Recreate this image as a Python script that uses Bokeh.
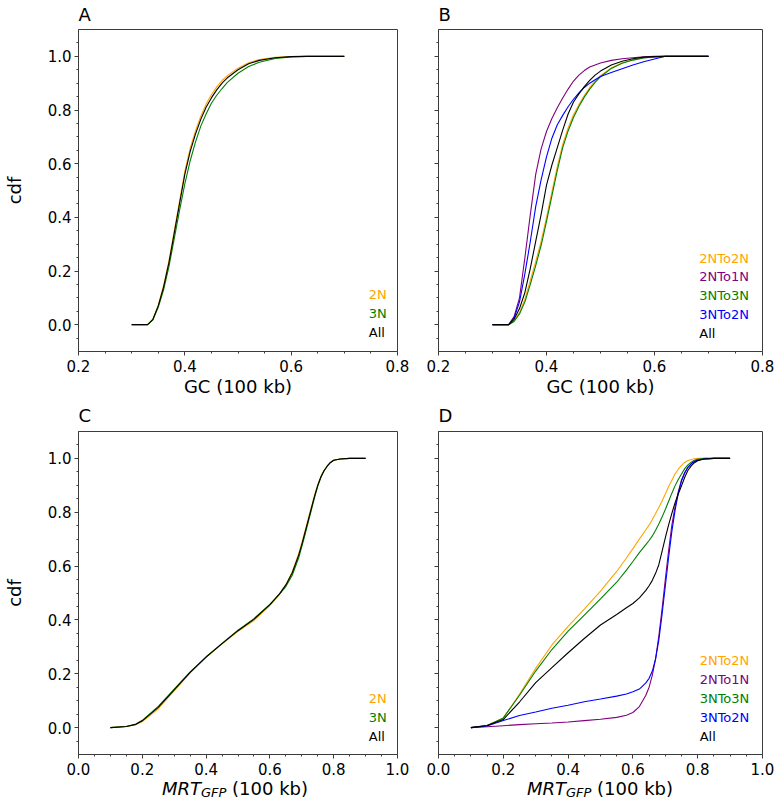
from bokeh.plotting import figure
from bokeh.models import (Range1d, FixedTicker, NumeralTickFormatter,
                          CustomJSTickFormatter, Label, Div)
from bokeh.layouts import column, row
from bokeh.embed import file_html
from bokeh.resources import INLINE

# ---------------- data ----------------
# Panel A: GC (100 kb), 2N / 3N / All
gc_x_A = [0.30, 0.33, 0.34, 0.35, 0.36, 0.37, 0.38, 0.39, 0.40, 0.41, 0.42, 0.43,
          0.44, 0.45, 0.46, 0.47, 0.48, 0.50, 0.52, 0.54, 0.57, 0.60, 0.63, 0.70]
cdf_A_2N = [0, 0, 0.021, 0.073, 0.145, 0.237, 0.348, 0.46, 0.572, 0.657, 0.722, 0.777,
            0.822, 0.857, 0.886, 0.91, 0.928, 0.956, 0.976, 0.988, 0.996, 0.9995, 1.0, 1.0]
cdf_A_3N = [0, 0, 0.018, 0.065, 0.13, 0.215, 0.32, 0.425, 0.525, 0.61, 0.68, 0.74,
            0.785, 0.825, 0.855, 0.88, 0.903, 0.937, 0.962, 0.978, 0.992, 0.998, 1.0, 1.0]
cdf_A_All = [0, 0, 0.02, 0.07, 0.14, 0.23, 0.34, 0.45, 0.56, 0.645, 0.71, 0.765,
             0.81, 0.845, 0.875, 0.90, 0.92, 0.95, 0.972, 0.985, 0.995, 0.999, 1.0, 1.0]

# Panel B: GC (100 kb), transitions
gc_x_B = [0.30, 0.33, 0.34, 0.35, 0.36, 0.37, 0.38, 0.39, 0.40, 0.41, 0.42, 0.43, 0.44,
          0.45, 0.46, 0.47, 0.48, 0.49, 0.50, 0.52, 0.54, 0.56, 0.58, 0.60, 0.62, 0.65, 0.70]
cdf_B_2NTo2N = [0, 0, 0.015, 0.045, 0.095, 0.165, 0.235, 0.31, 0.40, 0.495, 0.59, 0.672, 0.733,
                0.782, 0.82, 0.854, 0.884, 0.908, 0.928, 0.957, 0.975, 0.987, 0.995, 0.998, 1.0, 1.0, 1.0]
cdf_B_2NTo1N = [0, 0, 0.03, 0.10, 0.25, 0.41, 0.56, 0.655, 0.72, 0.768, 0.808, 0.845, 0.878,
                0.908, 0.93, 0.947, 0.96, 0.968, 0.975, 0.985, 0.991, 0.995, 0.998, 1.0, 1.0, 1.0, 1.0]
cdf_B_3NTo3N = [0, 0, 0.012, 0.04, 0.085, 0.15, 0.22, 0.295, 0.385, 0.48, 0.575, 0.66, 0.722,
                0.772, 0.813, 0.848, 0.878, 0.903, 0.924, 0.955, 0.974, 0.986, 0.994, 0.998, 1.0, 1.0, 1.0]
cdf_B_3NTo2N = [0, 0, 0.025, 0.085, 0.19, 0.31, 0.44, 0.54, 0.625, 0.695, 0.745, 0.78, 0.812,
                0.84, 0.864, 0.884, 0.90, 0.913, 0.925, 0.94, 0.954, 0.968, 0.98, 0.99, 1.0, 1.0, 1.0]
cdf_B_All = [0, 0, 0.02, 0.06, 0.12, 0.21, 0.31, 0.41, 0.52, 0.595, 0.66, 0.725, 0.785,
             0.83, 0.86, 0.887, 0.91, 0.93, 0.945, 0.968, 0.982, 0.991, 0.997, 0.999, 1.0, 1.0, 1.0]

# Panel C: MRT_GFP (100 kb), 2N / 3N / All
mrt_x_C = [0.10, 0.15, 0.18, 0.20, 0.25, 0.30, 0.35, 0.40, 0.45, 0.50, 0.55, 0.60, 0.63, 0.65, 0.67,
           0.69, 0.70, 0.71, 0.72, 0.73, 0.74, 0.75, 0.76, 0.77, 0.78, 0.79, 0.80, 0.82, 0.85, 0.90]
cdf_C_2N = [0.0, 0.004, 0.011, 0.022, 0.07, 0.136, 0.203, 0.261, 0.311, 0.358, 0.398, 0.453, 0.495,
            0.53, 0.578, 0.645, 0.686, 0.73, 0.775, 0.82, 0.864, 0.902, 0.933, 0.956, 0.972, 0.985,
            0.993, 0.998, 1.0, 1.0]
cdf_C_3N = [0.0, 0.004, 0.013, 0.027, 0.079, 0.143, 0.207, 0.263, 0.313, 0.362, 0.405, 0.458, 0.496,
            0.524, 0.566, 0.63, 0.672, 0.716, 0.762, 0.808, 0.854, 0.896, 0.93, 0.954, 0.971, 0.985,
            0.993, 0.998, 1.0, 1.0]
cdf_C_All = [0.0, 0.004, 0.012, 0.025, 0.075, 0.14, 0.205, 0.262, 0.312, 0.36, 0.402, 0.457, 0.497,
             0.53, 0.575, 0.64, 0.68, 0.725, 0.77, 0.815, 0.86, 0.90, 0.932, 0.955, 0.972, 0.985,
             0.993, 0.998, 1.0, 1.0]

# Panel D: MRT_GFP (100 kb), transitions
mrt_x_D = [0.10, 0.15, 0.20, 0.25, 0.30, 0.35, 0.40, 0.45, 0.50, 0.55, 0.58, 0.60, 0.62, 0.64,
           0.65, 0.66, 0.67, 0.68, 0.69, 0.70, 0.71, 0.72, 0.73, 0.74, 0.75, 0.76, 0.77, 0.78,
           0.79, 0.80, 0.82, 0.85, 0.90]
cdf_D_2NTo2N = [0, 0.008, 0.035, 0.124, 0.22, 0.307, 0.376, 0.44, 0.507, 0.58, 0.63, 0.665, 0.70,
                0.735, 0.752, 0.773, 0.795, 0.818, 0.842, 0.868, 0.895, 0.918, 0.942, 0.96, 0.974,
                0.985, 0.992, 0.996, 0.999, 1.0, 1.0, 1.0, 1.0]
cdf_D_2NTo1N = [0, 0.003, 0.007, 0.011, 0.014, 0.017, 0.021, 0.026, 0.031, 0.038, 0.046, 0.056,
                0.078, 0.12, 0.15, 0.195, 0.255, 0.34, 0.44, 0.55, 0.655, 0.75, 0.82, 0.876, 0.92,
                0.948, 0.968, 0.98, 0.989, 0.994, 0.998, 1.0, 1.0]
cdf_D_3NTo3N = [0, 0.008, 0.036, 0.12, 0.21, 0.29, 0.358, 0.418, 0.478, 0.54, 0.585, 0.617, 0.65,
                0.68, 0.695, 0.712, 0.733, 0.756, 0.782, 0.81, 0.84, 0.87, 0.898, 0.922, 0.942,
                0.962, 0.976, 0.986, 0.993, 0.997, 1.0, 1.0, 1.0]
cdf_D_3NTo2N = [0, 0.006, 0.026, 0.045, 0.058, 0.072, 0.083, 0.096, 0.106, 0.117, 0.125, 0.133,
                0.143, 0.166, 0.183, 0.21, 0.255, 0.325, 0.42, 0.525, 0.63, 0.727, 0.806, 0.87,
                0.916, 0.946, 0.967, 0.98, 0.989, 0.994, 0.998, 1.0, 1.0]
cdf_D_All = [0, 0.008, 0.03, 0.095, 0.167, 0.223, 0.278, 0.331, 0.381, 0.42, 0.445, 0.461, 0.482,
             0.51, 0.527, 0.547, 0.573, 0.605, 0.655, 0.705, 0.752, 0.795, 0.835, 0.868, 0.898,
             0.93, 0.956, 0.972, 0.984, 0.991, 0.998, 1.0, 1.0]

labels_ploidy = ["2N", "3N", "All"]
colors_ploidy = ["orange", "green", "black"]
labels_trans = ["2NTo2N", "2NTo1N", "3NTo3N", "3NTo2N", "All"]
colors_trans = ["orange", "purple", "green", "blue", "black"]
panel_letters = ["A", "B", "C", "D"]

y_major = [0.0, 0.2, 0.4, 0.6, 0.8, 1.0]
y_minor = [-0.05, 0.05, 0.1, 0.15, 0.25, 0.3, 0.35, 0.45, 0.5, 0.55, 0.65, 0.7, 0.75,
           0.85, 0.9, 0.95, 1.05]
gc_major = [0.2, 0.4, 0.6, 0.8]
gc_minor = [0.25, 0.3, 0.35, 0.45, 0.5, 0.55, 0.65, 0.7, 0.75]
mrt_major = [0.0, 0.2, 0.4, 0.6, 0.8, 1.0]
mrt_minor = [0.05, 0.1, 0.15, 0.25, 0.3, 0.35, 0.45, 0.5, 0.55, 0.65, 0.7, 0.75, 0.85, 0.9, 0.95]

FONT = "DejaVu Sans"
AX = "#3c3c3c"


def make_fig(width, height, bl, br, bt, bb, xr, xmaj, xmin, ylab, letter, title_standoff):
    p = figure(width=width, height=height, x_range=Range1d(*xr), y_range=Range1d(-0.1, 1.1),
               output_backend="svg", toolbar_location=None,
               min_border_left=bl, min_border_right=br, min_border_top=bt, min_border_bottom=bb)
    p.xgrid.visible = False
    p.ygrid.visible = False
    p.outline_line_color = AX
    p.outline_line_width = 1
    p.background_fill_color = "white"
    p.border_fill_color = "white"
    p.title.text = letter
    p.title.align = "left"
    p.title.vertical_align = "top"
    p.title.text_font = FONT
    p.title.text_font_size = "18px"
    p.title.text_font_style = "normal"
    p.title.text_color = "black"
    p.title.standoff = title_standoff
    for ax, maj, mn in ((p.xaxis[0], xmaj, xmin), (p.yaxis[0], y_major, y_minor)):
        ax.ticker = FixedTicker(ticks=maj, minor_ticks=mn)
        ax.axis_line_color = AX
        ax.major_tick_line_color = AX
        ax.minor_tick_line_color = AX
        ax.major_tick_in = 0
        ax.major_tick_out = 4
        ax.minor_tick_in = 0
        ax.minor_tick_out = 2
        ax.major_label_text_font = FONT
        ax.major_label_text_font_size = "15px"
        ax.major_label_text_color = "black"
        ax.axis_label_text_font = FONT
        ax.axis_label_text_font_size = "18px"
        ax.axis_label_text_font_style = "normal"
        ax.axis_label_text_color = "black"
    p.xaxis.formatter = NumeralTickFormatter(format="0.0")
    p.xaxis.major_label_standoff = 4
    p.xaxis.axis_label_standoff = 1
    p.yaxis.major_label_standoff = 3
    if ylab:
        p.yaxis.formatter = NumeralTickFormatter(format="0.0")
        p.yaxis.axis_label = "cdf"
        p.yaxis.axis_label_standoff = 20
    else:
        p.yaxis.formatter = CustomJSTickFormatter(code="return ''")
    return p


def add_legend(p, x_left, y_top, labels, colors):
    step = 0.0703
    for i, (lab, col) in enumerate(zip(labels, colors)):
        p.add_layout(Label(x=x_left, y=y_top - i * step, text=lab, text_font=FONT,
                           text_font_size="13px", text_align="left", text_baseline="middle",
                           text_color=col))


def mrt_div(width, left, frame_w):
    html = ('<div style="margin-left:%dpx;width:%dpx;text-align:center;'
            'font-family:\'DejaVu Sans\';font-size:18px;line-height:21px;color:black;'
            'white-space:nowrap;">'
            '<i>MRT</i><i style="font-size:13px;position:relative;top:2px;">GFP</i>'
            ' (100 kb)</div>') % (left, frame_w)
    return Div(text=html, width=width, height=21, margin=(0, 0, 0, 0))


# ---------------- panels ----------------
pA = make_fig(415, 400, 73, 18, 27, 49, (0.2, 0.8), gc_major, gc_minor, True,
              panel_letters[0], 6)
pA.xaxis.axis_label = "GC (100 kb)"
for ys, col in zip([cdf_A_2N, cdf_A_3N, cdf_A_All], colors_ploidy):
    pA.line(gc_x_A, ys, line_color=col, line_width=1.1)
add_legend(pA, 0.746, 0.111, labels_ploidy, colors_ploidy)

pB = make_fig(359, 400, 23, 12, 27, 49, (0.2, 0.8), gc_major, gc_minor, False,
              panel_letters[1], 6)
pB.xaxis.axis_label = "GC (100 kb)"
for ys, col in zip([cdf_B_2NTo2N, cdf_B_2NTo1N, cdf_B_3NTo3N, cdf_B_3NTo2N, cdf_B_All],
                   colors_trans):
    pB.line(gc_x_B, ys, line_color=col, line_width=1.1)
add_legend(pB, 0.683, 0.248, labels_trans, colors_trans)

pC = make_fig(415, 378, 73, 18, 30, 24, (0.0, 1.0), mrt_major, mrt_minor, True,
              panel_letters[2], 8)
for ys, col in zip([cdf_C_2N, cdf_C_3N, cdf_C_All], colors_ploidy):
    pC.line(mrt_x_C, ys, line_color=col, line_width=1.1)
add_legend(pC, 0.910, 0.108, labels_ploidy, colors_ploidy)

pD = make_fig(359, 378, 23, 12, 30, 24, (0.0, 1.0), mrt_major, mrt_minor, False,
              panel_letters[3], 8)
for ys, col in zip([cdf_D_2NTo2N, cdf_D_2NTo1N, cdf_D_3NTo3N, cdf_D_3NTo2N, cdf_D_All],
                   colors_trans):
    pD.line(mrt_x_D, ys, line_color=col, line_width=1.1)
add_legend(pD, 0.806, 0.248, labels_trans, colors_trans)

layout = column(row(pA, pB), row(pC, pD),
                row(mrt_div(415, 73, 324), mrt_div(359, 23, 324)))
open("out.html", "w").write(file_html(layout, INLINE))
